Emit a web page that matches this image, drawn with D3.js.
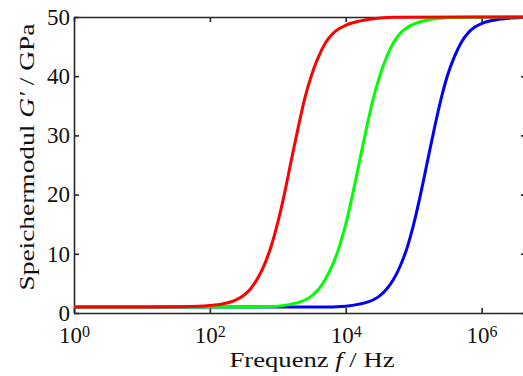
<!DOCTYPE html>
<html>
<head>
  <meta charset="utf-8">
  <script src="https://d3js.org/d3.v7.min.js"></script>
  <style>
    body { margin: 0; background: #fff; }
    svg { display: block; }
    .axis path, .axis line { stroke: #262626; stroke-width: 1.6; }
    text { font-family: "Liberation Serif", "Times New Roman", serif; fill: #111; }
  </style>
</head>
<body>
  <svg width="523" height="376"></svg>

  <script>
    // values: frequency in Hz, storage modulus in GPa
    var redFreq   = [1, 10, 40, 100, 158, 251, 316, 398, 501, 631, 794, 1000, 1260, 1580, 2000, 2510, 3160, 3980, 5010, 6310, 7940, 10000, 15800, 25100, 50100, 4.5e6];
    var redG      = [1.0, 1.0, 1.05, 1.25, 1.55, 2.3, 3.0, 4.1, 5.8, 8.1, 11.2, 15.3, 20.3, 25.8, 31.4, 36.4, 40.3, 43.3, 45.6, 47.1, 48.0, 48.6, 49.3, 49.7, 49.95, 50.0];
    var greenFreq = [1, 100, 400, 1000, 1580, 2510, 3160, 3980, 5010, 6310, 7940, 10000, 12600, 15800, 20000, 25100, 31600, 39800, 50100, 63100, 79400, 100000, 158000, 251000, 501000, 4.5e6];
    var greenG    = [1.0, 1.0, 1.0, 1.15, 1.5, 2.2, 2.9, 4.0, 5.7, 8.0, 11.0, 15.0, 20.0, 25.4, 31.0, 36.0, 40.0, 43.2, 45.6, 47.2, 48.2, 48.8, 49.5, 49.8, 49.95, 50.0];
    var blueFreq  = [1, 1000, 4000, 10000, 15800, 25100, 31600, 39800, 50100, 63100, 79400, 100000, 126000, 158000, 200000, 251000, 316000, 398000, 501000, 631000, 794000, 1e6, 1.58e6, 2.51e6, 4.5e6];
    var blueG     = [1.0, 1.0, 1.0, 1.15, 1.5, 2.2, 2.9, 4.0, 5.6, 7.9, 10.9, 15.0, 20.0, 25.4, 31.0, 36.0, 40.2, 43.3, 45.7, 47.3, 48.3, 48.9, 49.5, 49.8, 49.95];

    var xTicks = [1, 1e2, 1e4, 1e6];
    var xTickExp = ["0", "2", "4", "6"];
    var yTicks = [0, 10, 20, 30, 40, 50];

    var series = [
      { color: "#0000ff", f: blueFreq, g: blueG },
      { color: "#00ff00", f: greenFreq, g: greenG },
      { color: "#ff0000", f: redFreq, g: redG }
    ];

    var svg = d3.select("svg");
    var plotLeft = 74, plotRight = 526, plotTop = 17, plotBottom = 313;

    var x = d3.scaleLog().domain([1, 4.5e6]).range([plotLeft, plotRight]);
    var y = d3.scaleLinear().domain([0, 50]).range([plotBottom, plotTop]);

    var line = d3.line()
      .x(d => x(d[0]))
      .y(d => y(d[1]))
      .curve(d3.curveMonotoneX);

    // box axes, ticks pointing inward
    svg.append("g").attr("class", "axis")
      .attr("transform", "translate(0," + plotTop + ")")
      .call(d3.axisTop(x).tickValues(xTicks).tickSize(-5).tickSizeOuter(0).tickFormat(""));
    svg.append("g").attr("class", "axis")
      .attr("transform", "translate(" + plotRight + ",0)")
      .call(d3.axisRight(y).tickValues(yTicks).tickSize(-5).tickSizeOuter(0).tickFormat(""));

    var xAxis = svg.append("g").attr("class", "axis")
      .attr("transform", "translate(0," + plotBottom + ")")
      .call(d3.axisBottom(x).tickValues(xTicks).tickSize(-5).tickSizeOuter(0).tickFormat(""));
    xAxis.selectAll(".tick text").remove();
    xAxis.selectAll(".tick").each(function(d, i) {
      var t = d3.select(this).append("text")
        .attr("y", 30)
        .attr("text-anchor", "middle")
        .style("font-size", "23px");
      t.append("tspan").text("10");
      t.append("tspan").attr("dy", -6).style("font-size", "16px").text(xTickExp[i]);
    });

    var yAxis = svg.append("g").attr("class", "axis")
      .attr("transform", "translate(" + plotLeft + ",0)")
      .call(d3.axisLeft(y).tickValues(yTicks).tickSize(-5).tickSizeOuter(0).tickPadding(4));
    yAxis.selectAll(".tick text")
      .style("font-size", "23px");
    svg.selectAll(".axis").attr("fill", null).attr("font-family", null).attr("font-size", null);

    // curves (blue first, red on top)
    svg.selectAll(".curve")
      .data(series)
      .enter()
      .append("path")
      .attr("class", "curve")
      .attr("fill", "none")
      .attr("stroke", d => d.color)
      .attr("stroke-width", 3)
      .attr("d", d => line(d.f.map((v, i) => [v, d.g[i]])));

    // axis titles
    var xt = svg.append("text")
      .attr("x", 312)
      .attr("y", 367)
      .attr("text-anchor", "middle")
      .attr("textLength", 165)
      .attr("lengthAdjust", "spacingAndGlyphs")
      .style("font-size", "21px");
    xt.append("tspan").text("Frequenz ");
    xt.append("tspan").style("font-style", "italic").text("f");
    xt.append("tspan").text(" / Hz");

    var yt = svg.append("text")
      .attr("transform", "translate(34,157) rotate(-90)")
      .attr("text-anchor", "middle")
      .attr("textLength", 267)
      .attr("lengthAdjust", "spacingAndGlyphs")
      .style("font-size", "21px");
    yt.append("tspan").text("Speichermodul ");
    yt.append("tspan").style("font-style", "italic").text("G′");
    yt.append("tspan").text(" / GPa");
  </script>
</body>
</html>
